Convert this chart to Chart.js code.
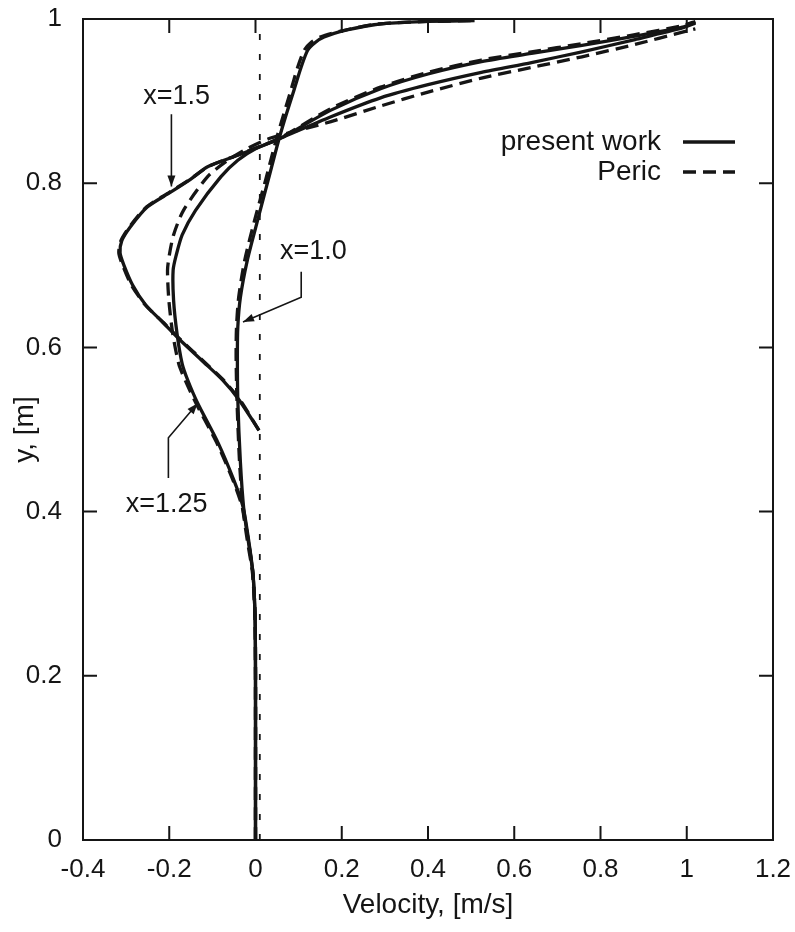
<!DOCTYPE html>
<html>
<head>
<meta charset="utf-8">
<title>Velocity profiles</title>
<script src="https://cdn.jsdelivr.net/npm/chart.js@4.4.0/dist/chart.umd.min.js"></script>
<style>
  html, body { margin: 0; padding: 0; background: #fff; }
  #wrap { width: 795px; height: 932px; }
</style>
</head>
<body>
<div id="wrap"><canvas id="perfil" width="795" height="932"></canvas></div>
<script>
// Velocity profiles u(y) at three stations, present work vs Peric
const xTicks = [-0.4, -0.2, 0, 0.2, 0.4, 0.6, 0.8, 1, 1.2];
const yTicks = [0, 0.2, 0.4, 0.6, 0.8, 1];

// station x=1.0
const y10 = [0, 0.10, 0.20, 0.27, 0.325, 0.365, 0.402, 0.46, 0.536, 0.59, 0.625, 0.661, 0.706, 0.755, 0.805, 0.853, 0.885, 0.913, 0.940, 0.962, 0.972, 0.978, 0.985, 0.993, 0.995, 0.997, 0.998];
const u10Present = [0, 0, 0, -0.001, -0.006, -0.017, -0.027, -0.035, -0.041, -0.042, -0.041, -0.035, -0.019, 0.005, 0.030, 0.054, 0.072, 0.089, 0.105, 0.121, 0.140, 0.159, 0.198, 0.275, 0.315, 0.40, 0.508];
const u10Peric = [0, 0, 0, -0.001, -0.007, -0.019, -0.029, -0.037, -0.043, -0.045, -0.044, -0.039, -0.025, -0.002, 0.024, 0.048, 0.066, 0.082, 0.097, 0.113, 0.130, 0.150, 0.195, 0.27, 0.31, 0.40, 0.50];

// station x=1.25
const y125 = [0, 0.20, 0.27, 0.325, 0.369, 0.406, 0.438, 0.484, 0.532, 0.560, 0.58, 0.617, 0.658, 0.694, 0.712, 0.737, 0.767, 0.808, 0.828, 0.842, 0.855];
const u125Present = [0, 0, -0.001, -0.006, -0.017, -0.029, -0.050, -0.087, -0.134, -0.157, -0.170, -0.182, -0.190, -0.191, -0.184, -0.170, -0.139, -0.080, -0.041, 0.000, 0.059];
const u125Peric = [0, 0, -0.001, -0.006, -0.018, -0.031, -0.052, -0.090, -0.138, -0.163, -0.178, -0.192, -0.201, -0.204, -0.200, -0.190, -0.167, -0.111, -0.064, -0.020, 0.035];
// upper part of x=1.25, towards the lid
const u125Top = [0.175, 0.29, 0.40, 0.524, 0.64, 0.757, 0.88, 0.99, 1.02];
const y125TopPresent = [0.881, 0.904, 0.920, 0.935, 0.947, 0.960, 0.975, 0.989, 0.995];
const y125TopPeric = [0.875, 0.894, 0.911, 0.928, 0.941, 0.954, 0.969, 0.984, 0.988];

// station x=1.5 (starts at y=0.5)
const y15 = [0.499, 0.536, 0.560, 0.582, 0.609, 0.630, 0.652, 0.676, 0.700, 0.715, 0.730, 0.747, 0.771, 0.789, 0.805, 0.820, 0.834, 0.845, 0.855];
const u15Present = [0.008, -0.038, -0.076, -0.120, -0.175, -0.214, -0.255, -0.285, -0.305, -0.314, -0.310, -0.290, -0.251, -0.197, -0.150, -0.111, -0.041, 0.013, 0.059];
const u15Peric = [0.008, -0.036, -0.074, -0.118, -0.173, -0.213, -0.256, -0.288, -0.308, -0.317, -0.312, -0.292, -0.253, -0.199, -0.151, -0.110, -0.043, 0.011, 0.057];
const u15Top = [0.175, 0.29, 0.40, 0.524, 0.64, 0.757, 0.88, 0.99, 1.02];
const y15TopPresent = [0.889, 0.915, 0.933, 0.948, 0.958, 0.968, 0.979, 0.990, 0.996];
const y15TopPeric = [0.891, 0.917, 0.935, 0.950, 0.960, 0.970, 0.981, 0.992, 0.997];

const zeroU = [0.01, 0.01];
const zeroY = [0, 1];

const FONT = '"Liberation Sans", Arial, Helvetica, sans-serif';
const INK = '#151515';

function pares(us, ys) {
  return us.map((u, i) => ({ x: u, y: ys[i] }));
}

function perfil(label, pts, dashed) {
  return {
    label: label,
    data: pts,
    showLine: true,
    borderColor: INK,
    borderWidth: 3.3,
    borderDash: dashed ? [13, 7] : [],
    pointRadius: 0,
    tension: 0.25,
    fill: false
  };
}

const datasets = [
  {
    label: 'eje',
    data: pares(zeroU, zeroY),
    showLine: true,
    borderColor: INK,
    borderWidth: 1.8,
    borderDash: [6, 14],
    pointRadius: 0
  },
  perfil('present work', pares(u10Present, y10), false),
  perfil('Peric', pares(u10Peric, y10), true),
  perfil('present work', pares(u125Present, y125).concat(pares(u125Top, y125TopPresent)), false),
  perfil('Peric', pares(u125Peric, y125).concat(pares(u125Top, y125TopPeric)), true),
  perfil('present work', pares(u15Present, y15).concat(pares(u15Top, y15TopPresent)), false),
  perfil('Peric', pares(u15Peric, y15).concat(pares(u15Top, y15TopPeric)), true)
];

// station labels with their leader arrows (data coordinates)
const notas = [
  { text: 'x=1.5', at: [-0.183, 0.905], path: [[-0.195, 0.884], [-0.195, 0.796]] },
  { text: 'x=1.0', at: [0.134, 0.717], path: [[0.106, 0.692], [0.106, 0.661], [-0.029, 0.631]] },
  { text: 'x=1.25', at: [-0.206, 0.408], path: [[-0.202, 0.441], [-0.202, 0.490], [-0.134, 0.532]] }
];

// frame + inward ticks on the four sides
const marco = {
  id: 'marco',
  afterDatasetsDraw(chart) {
    const { ctx, chartArea: a, scales } = chart;
    const tl = 14;
    ctx.save();
    ctx.strokeStyle = INK;
    ctx.lineWidth = 2;
    ctx.strokeRect(a.left, a.top, a.right - a.left, a.bottom - a.top);
    ctx.beginPath();
    xTicks.forEach(v => {
      const px = scales.x.getPixelForValue(v);
      ctx.moveTo(px, a.bottom); ctx.lineTo(px, a.bottom - tl);
      ctx.moveTo(px, a.top); ctx.lineTo(px, a.top + tl);
    });
    yTicks.forEach(v => {
      const py = scales.y.getPixelForValue(v);
      ctx.moveTo(a.left, py); ctx.lineTo(a.left + tl, py);
      ctx.moveTo(a.right, py); ctx.lineTo(a.right - tl, py);
    });
    ctx.stroke();
    ctx.restore();
  }
};

function flecha(ctx, x0, y0, x1, y1) {
  const ang = Math.atan2(y1 - y0, x1 - x0);
  const L = 11, W = 4;
  ctx.beginPath();
  ctx.moveTo(x1, y1);
  ctx.lineTo(x1 - L * Math.cos(ang) + W * Math.sin(ang), y1 - L * Math.sin(ang) - W * Math.cos(ang));
  ctx.lineTo(x1 - L * Math.cos(ang) - W * Math.sin(ang), y1 - L * Math.sin(ang) + W * Math.cos(ang));
  ctx.closePath();
  ctx.fill();
}

const anotaciones = {
  id: 'anotaciones',
  afterDraw(chart) {
    const { ctx, chartArea: a, scales } = chart;
    const sx = v => scales.x.getPixelForValue(v);
    const sy = v => scales.y.getPixelForValue(v);
    ctx.save();
    ctx.fillStyle = INK;
    ctx.strokeStyle = INK;
    ctx.font = '27px ' + FONT;
    ctx.textAlign = 'center';
    ctx.textBaseline = 'middle';
    notas.forEach(n => {
      ctx.fillText(n.text, sx(n.at[0]), sy(n.at[1]));
      const p = n.path.map(q => [sx(q[0]), sy(q[1])]);
      ctx.lineWidth = 1.6;
      ctx.beginPath();
      ctx.moveTo(p[0][0], p[0][1]);
      for (let i = 1; i < p.length; i++) ctx.lineTo(p[i][0], p[i][1]);
      ctx.stroke();
      const k = p.length - 1;
      flecha(ctx, p[k - 1][0], p[k - 1][1], p[k][0], p[k][1]);
    });

    // legend, text right-aligned with the line sample to its right
    const filas = [datasets[1], datasets[2]];
    const xr = a.right - 112;
    ctx.font = '28px ' + FONT;
    ctx.textAlign = 'right';
    filas.forEach((ds, i) => {
      const y = a.top + 123 + i * 30;
      ctx.fillText(ds.label, xr, y);
      ctx.lineWidth = ds.borderWidth;
      ctx.setLineDash(ds.borderDash);
      ctx.beginPath();
      ctx.moveTo(xr + 22, y);
      ctx.lineTo(xr + 74, y);
      ctx.stroke();
      ctx.setLineDash([]);
    });
    ctx.restore();
  }
};

const fmt = v => (Math.abs(v) < 1e-9 ? '0' : String(+v.toFixed(1)));

// fixed axis boxes so the plot frame sits at the same place every time
function fijarX(s) {
  s.height = 92;
  s.paddingLeft = 0;
  s.paddingRight = 0;
}
function fijarY(s) {
  s.width = 83;
  s.paddingTop = 0;
  s.paddingBottom = 0;
}

new Chart(document.getElementById('perfil'), {
  type: 'scatter',
  data: { datasets: datasets },
  options: {
    responsive: false,
    animation: false,
    devicePixelRatio: 1,
    layout: { padding: { left: 0, right: 22, top: 19, bottom: 0 } },
    plugins: {
      legend: { display: false },
      tooltip: { enabled: false }
    },
    scales: {
      x: {
        type: 'linear',
        min: -0.4,
        max: 1.2,
        afterBuildTicks: s => { s.ticks = xTicks.map(v => ({ value: v })); },
        ticks: { padding: 14, color: INK, font: { family: FONT, size: 26 }, callback: fmt, maxRotation: 0 },
        grid: { display: false, drawTicks: false },
        border: { display: false },
        title: { display: true, text: 'Velocity, [m/s]', color: INK, font: { family: FONT, size: 28 }, padding: { top: 0, bottom: 10 } },
        afterFit: fijarX
      },
      y: {
        type: 'linear',
        min: 0,
        max: 1,
        afterBuildTicks: s => { s.ticks = yTicks.map(v => ({ value: v })); },
        ticks: { padding: 21, color: INK, font: { family: FONT, size: 26 }, callback: fmt },
        grid: { display: false, drawTicks: false },
        border: { display: false },
        title: { display: true, text: 'y, [m]', color: INK, font: { family: FONT, size: 28 }, padding: { top: 8, bottom: 0 } },
        afterFit: fijarY
      }
    }
  },
  plugins: [marco, anotaciones]
});
</script>
</body>
</html>
